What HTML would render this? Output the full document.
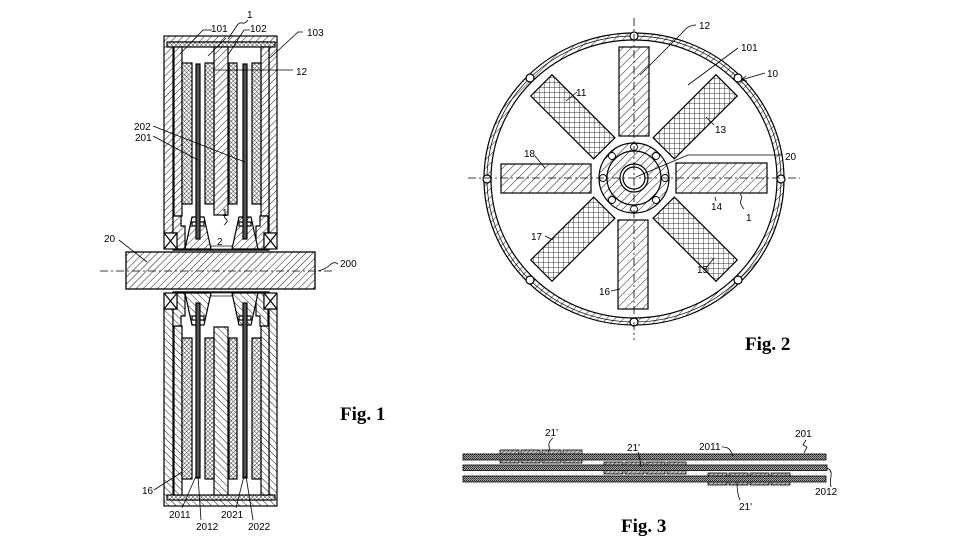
<!DOCTYPE html>
<html><head><meta charset="utf-8"><style>
html,body{margin:0;padding:0;background:#fff;}
svg{display:block}
text{font-family:"Liberation Sans",sans-serif;font-size:10px;fill:#000;stroke:none}
.fig{font-family:"Liberation Serif",serif;font-weight:bold;font-size:19px}
</style></head><body>
<svg width="968" height="545" viewBox="0 0 968 545" xmlns="http://www.w3.org/2000/svg">
<defs>
<pattern id="h" width="5" height="5" patternUnits="userSpaceOnUse" patternTransform="rotate(45)"><rect width="5" height="5" fill="#fff"/><line x1="0" y1="0" x2="0" y2="5" stroke="#000" stroke-width="0.9"/></pattern>
<pattern id="hb" width="6" height="6" patternUnits="userSpaceOnUse" patternTransform="rotate(45)"><rect width="6" height="6" fill="#fff"/><line x1="0" y1="0" x2="0" y2="6" stroke="#000" stroke-width="0.9"/></pattern>
<pattern id="x" width="3" height="3" patternUnits="userSpaceOnUse" patternTransform="rotate(45)"><rect width="3" height="3" fill="#fff"/><path d="M0 0V3M0 0H3" stroke="#000" stroke-width="0.7" fill="none"/></pattern>
<pattern id="g" width="5" height="5" patternUnits="userSpaceOnUse" patternTransform="rotate(45)"><rect width="5" height="5" fill="#fff"/><path d="M0 0V5M0 0H5" stroke="#000" stroke-width="0.8" fill="none"/></pattern>
<pattern id="ck" width="2" height="2" patternUnits="userSpaceOnUse"><rect width="2" height="2" fill="#aaa"/><rect width="1" height="1" fill="#222"/><rect x="1" y="1" width="1" height="1" fill="#444"/></pattern>
<pattern id="pt" width="3" height="3" patternUnits="userSpaceOnUse" patternTransform="rotate(45)"><rect width="3" height="3" fill="#bbb"/><line x1="0" y1="0" x2="0" y2="3" stroke="#222" stroke-width="0.9"/></pattern>
</defs>

<!-- ================= FIG 1 ================= -->
<g id="f1top" stroke="#000" stroke-width="1.2">
  <rect x="164" y="36" width="113" height="197" fill="url(#h)"/>
  <rect x="173" y="42" width="96" height="208" fill="#fff"/>
  <rect x="167" y="42" width="108" height="5" fill="url(#x)"/>
  <rect x="174" y="47" width="8" height="169" fill="url(#h)"/>
  <rect x="261" y="47" width="8" height="169" fill="url(#h)"/>
  <polygon points="173,216 181,216 181,226 185,226 185,249 177,249 177,233 173,233" fill="url(#h)"/>
  <polygon points="268,216 260,216 260,226 256,226 256,249 264,249 264,233 268,233" fill="url(#h)"/>
  <rect x="164" y="233" width="13" height="16" fill="#fff"/>
  <path d="M164 233L177 249M177 233L164 249" fill="none"/>
  <rect x="264" y="233" width="13" height="16" fill="#fff"/>
  <path d="M264 233L277 249M277 233L264 249" fill="none"/>
  <rect x="214" y="47" width="14" height="168" fill="url(#h)"/>
  <rect x="182" y="63" width="10" height="141" fill="url(#x)"/>
  <rect x="205" y="63" width="9" height="141" fill="url(#x)"/>
  <rect x="229" y="63" width="8" height="141" fill="url(#x)"/>
  <rect x="252" y="63" width="9" height="141" fill="url(#x)"/>
  <polygon points="192,217 204,217 211,249 185,249" fill="url(#h)"/>
  <polygon points="239,217 251,217 258,249 232,249" fill="url(#h)"/>
  <rect x="192" y="222" width="12" height="4" fill="#fff"/>
  <rect x="239" y="222" width="12" height="4" fill="#fff"/>
  <rect x="196" y="64" width="4" height="175" fill="#555"/>
  <rect x="243" y="64" width="4" height="175" fill="#555"/>
  <line x1="173" y1="250" x2="269" y2="250"/>
  <rect x="211" y="246" width="21" height="3" fill="#fff" stroke-width="0.7"/>
</g>
<use href="#f1top" transform="translate(0,542) scale(1,-1)"/>
<rect x="126" y="252" width="189" height="37" fill="url(#h)" stroke="#000" stroke-width="1.3"/>
<line x1="100" y1="271" x2="332" y2="271" stroke="#000" stroke-width="0.8" stroke-dasharray="8 3 2 3"/>

<g stroke="#000" stroke-width="0.8" fill="none">
  <path d="M212 30L203 30L180 54"/>
  <path d="M248 20q-3 4 -6 3t-6 4l-8 12"/>
  <path d="M226 38L208 56"/>
  <path d="M250 30L244 30L228 55"/>
  <path d="M303 32L298 32L270 58"/>
  <path d="M213 70L293 70"/>
  <path d="M153 126L245 162"/>
  <path d="M153 136L198 160"/>
  <path d="M226 214q-3 3 0 5t-2 6"/>
  <path d="M119 240L147 262"/>
  <path d="M318 271q8 -2 12 -6t8 -1"/>
  <path d="M154 490L182 472"/>
  <path d="M182 508L196 476"/>
  <path d="M201 520L198 476"/>
  <path d="M236 508L244 476"/>
  <path d="M253 520L246 476"/>
</g>
<g>
  <text x="247" y="18">1</text>
  <text x="211" y="32">101</text>
  <text x="250" y="32">102</text>
  <text x="307" y="36">103</text>
  <text x="296" y="75">12</text>
  <text x="134" y="130">202</text>
  <text x="135" y="141">201</text>
  <text x="222" y="216">1</text>
  <text x="217" y="245">2</text>
  <text x="104" y="242">20</text>
  <text x="340" y="267">200</text>
  <text x="142" y="494">16</text>
  <text x="169" y="518">2011</text>
  <text x="196" y="530">2012</text>
  <text x="221" y="518">2021</text>
  <text x="248" y="530">2022</text>
  <text class="fig" x="340" y="420">Fig. 1</text>
</g>

<!-- ================= FIG 2 ================= -->
<g stroke="#000" stroke-width="1.2">
  <path d="M484 179a150 146 0 1 0 300 0a150 146 0 1 0 -300 0ZM491 179a143 139 0 1 0 286 0a143 139 0 1 0 -286 0Z" fill="url(#hb)" fill-rule="evenodd"/>
  <ellipse cx="634" cy="179" rx="147" ry="143" fill="none" stroke-width="0.7"/>
  <g fill="#fff">
    <circle cx="781" cy="179" r="4"/><circle cx="487" cy="179" r="4"/>
    <circle cx="634" cy="36" r="4"/><circle cx="634" cy="322" r="4"/>
    <circle cx="738" cy="78" r="4"/><circle cx="530" cy="78" r="4"/>
    <circle cx="738" cy="280" r="4"/><circle cx="530" cy="280" r="4"/>
  </g>
  <rect x="619" y="47" width="30" height="89" fill="url(#hb)"/>
  <rect x="618" y="220" width="30" height="89" fill="url(#hb)"/>
  <rect x="676" y="163" width="91" height="30" fill="url(#hb)"/>
  <rect x="501" y="164" width="90" height="29" fill="url(#hb)"/>
  <g transform="translate(634,178) rotate(-45)"><rect x="42" y="-15" width="89" height="30" fill="url(#g)"/></g>
  <g transform="translate(634,178) rotate(45)"><rect x="42" y="-15" width="89" height="30" fill="url(#g)"/></g>
  <g transform="translate(634,178) rotate(135)"><rect x="42" y="-15" width="89" height="30" fill="url(#g)"/></g>
  <g transform="translate(634,178) rotate(-135)"><rect x="42" y="-15" width="89" height="30" fill="url(#g)"/></g>
  <circle cx="634" cy="178" r="35" fill="url(#hb)"/>
  <circle cx="634" cy="178" r="27" fill="none"/>
  <circle cx="634" cy="178" r="14" fill="#fff"/>
  <circle cx="634" cy="178" r="11" fill="#fff"/>
  <g fill="#fff" stroke-width="0.9">
    <circle cx="665" cy="178" r="3.5"/><circle cx="603" cy="178" r="3.5"/>
    <circle cx="634" cy="147" r="3.5"/><circle cx="634" cy="209" r="3.5"/>
    <circle cx="656" cy="156" r="3.5"/><circle cx="612" cy="156" r="3.5"/>
    <circle cx="656" cy="200" r="3.5"/><circle cx="612" cy="200" r="3.5"/>
  </g>
</g>
<g stroke="#000" stroke-width="0.8" fill="none" stroke-dasharray="8 3 2 3">
  <line x1="468" y1="178" x2="800" y2="178"/>
  <line x1="634" y1="18" x2="634" y2="340"/>
</g>
<g stroke="#000" stroke-width="0.8" fill="none">
  <path d="M696 25q-8 0 -14 8l-42 42"/>
  <path d="M738 48L688 85"/>
  <path d="M765 73L741 80"/>
  <path d="M741 80l5 -4M741 80l6 1"/>
  <path d="M577 92L566 101"/>
  <path d="M714 125L706 117"/>
  <path d="M535 156L545 168"/>
  <path d="M636 177L688 155L783 155"/>
  <path d="M715 197L716 201"/>
  <path d="M740 194q3 3 1 6t3 9"/>
  <path d="M545 236q4 2 8 4"/>
  <path d="M706 268L714 258"/>
  <path d="M611 291L620 289"/>
</g>
<g>
  <text x="699" y="29">12</text>
  <text x="741" y="51">101</text>
  <text x="767" y="77">10</text>
  <text x="576" y="96">11</text>
  <text x="715" y="133">13</text>
  <text x="524" y="157">18</text>
  <text x="785" y="160">20</text>
  <text x="711" y="210">14</text>
  <text x="746" y="221">1</text>
  <text x="531" y="240">17</text>
  <text x="697" y="273">15</text>
  <text x="599" y="295">16</text>
  <text class="fig" x="745" y="350">Fig. 2</text>
</g>

<!-- ================= FIG 3 ================= -->
<g stroke="#000" stroke-width="0.8">
  <rect x="500" y="450" width="19" height="13" fill="url(#pt)"/>
  <rect x="521" y="450" width="19" height="13" fill="url(#pt)"/>
  <rect x="542" y="450" width="19" height="13" fill="url(#pt)"/>
  <rect x="563" y="450" width="19" height="13" fill="url(#pt)"/>
  <rect x="604" y="462" width="19" height="12" fill="url(#pt)"/>
  <rect x="625" y="462" width="19" height="12" fill="url(#pt)"/>
  <rect x="646" y="462" width="19" height="12" fill="url(#pt)"/>
  <rect x="667" y="462" width="19" height="12" fill="url(#pt)"/>
  <rect x="708" y="473" width="19" height="12" fill="url(#pt)"/>
  <rect x="729" y="473" width="19" height="12" fill="url(#pt)"/>
  <rect x="750" y="473" width="19" height="12" fill="url(#pt)"/>
  <rect x="771" y="473" width="19" height="12" fill="url(#pt)"/>
  <rect x="463" y="454" width="363" height="6" fill="url(#ck)"/>
  <rect x="463" y="465" width="364" height="5.5" fill="url(#ck)"/>
  <rect x="463" y="476" width="363" height="6" fill="url(#ck)"/>
</g>
<g stroke="#000" stroke-width="0.8" fill="none">
  <path d="M553 438q-5 4 -4 8t-1 6"/>
  <path d="M638 452q2 6 3 15"/>
  <path d="M722 447q6 0 8 3t3 6"/>
  <path d="M806 440l-3 5 4 2 -3 6"/>
  <path d="M827 468q5 2 4 8t0 11"/>
  <path d="M740 500q-3 -6 -3 -18"/>
</g>
<g>
  <text x="545" y="436">21'</text>
  <text x="627" y="451">21'</text>
  <text x="699" y="450">2011</text>
  <text x="795" y="437">201</text>
  <text x="815" y="495">2012</text>
  <text x="739" y="510">21'</text>
  <text class="fig" x="621" y="532">Fig. 3</text>
</g>
</svg>
</body></html>
